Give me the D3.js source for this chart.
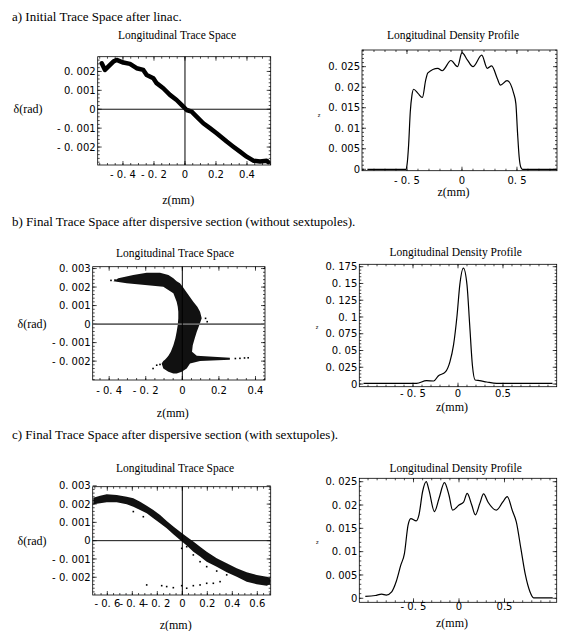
<!DOCTYPE html>
<html>
<head>
<meta charset="utf-8">
<script src="https://cdn.jsdelivr.net/npm/d3@7"></script>
<style>
body { margin: 0; background: #fff; }
.title { font-family: "Liberation Serif", "Times New Roman", serif; font-size: 13px; }
.sub { font-family: "Liberation Serif", "Times New Roman", serif; font-size: 11.5px; }
.axlab { font-family: "Liberation Serif", "Times New Roman", serif; font-size: 12px; }
.tick { font-family: "DejaVu Sans", sans-serif; font-size: 10px; }
</style>
</head>
<body>
<div id="chart"></div>
<script>
// a) trace after linac: centre of the thick band
const traceA_z = [-0.537, -0.516, -0.495, -0.462, -0.441, -0.398, -0.355, -0.312, -0.269, -0.247, -0.204, -0.183, -0.140, -0.097, -0.054, -0.022, 0.011, 0.043, 0.075, 0.118, 0.161, 0.204, 0.269, 0.312, 0.355, 0.398, 0.441, 0.484, 0.527, 0.537];
const traceA_d = [0.00243, 0.00208, 0.00225, 0.00252, 0.00261, 0.00247, 0.0024, 0.00217, 0.00208, 0.00181, 0.00164, 0.00138, 0.00111, 0.00076, 0.00049, 0.00023, -0.00004, -0.00013, -0.00039, -0.00074, -0.001, -0.00127, -0.00171, -0.00198, -0.00224, -0.00251, -0.00272, -0.00277, -0.00272, -0.0028];

const profileA_z = [-0.86, -0.51, -0.50, -0.485, -0.47, -0.455, -0.44, -0.40, -0.36, -0.33, -0.31, -0.22, -0.18, -0.10, -0.04, 0.00, 0.05, 0.10, 0.18, 0.23, 0.27, 0.32, 0.35, 0.41, 0.47, 0.49, 0.505, 0.52, 0.535, 0.55, 0.86];
const profileA_n = [0, 0, 0.001, 0.006, 0.014, 0.018, 0.0195, 0.0185, 0.0175, 0.0217, 0.0235, 0.0246, 0.024, 0.0265, 0.025, 0.0284, 0.0266, 0.025, 0.0278, 0.0246, 0.0252, 0.0222, 0.0205, 0.0216, 0.0185, 0.016, 0.009, 0.003, 0.0005, 0, 0];

// b) without sextupoles: crescent cloud, left/right edge per delta
const bandB_d = [0.00277, 0.00265, 0.00247, 0.00232, 0.0022, 0.00202, 0.00166, 0.00121, 0.00094, 0.00067, 0.00031, -0.00005, -0.00042, -0.00077, -0.00114, -0.0015, -0.00171, -0.00182, -0.00193, -0.002, -0.00213, -0.0024, -0.00258, -0.00267];
const bandB_left = [-0.195, -0.268, -0.35, -0.377, -0.304, -0.104, -0.049, -0.031, -0.025, -0.022, -0.022, -0.025, -0.031, -0.038, -0.049, -0.063, -0.076, -0.085, -0.095, -0.104, -0.113, -0.104, -0.076, -0.049];
const bandB_right = [-0.122, -0.076, -0.049, -0.031, -0.013, 0.002, 0.027, 0.06, 0.082, 0.097, 0.106, 0.093, 0.079, 0.068, 0.057, 0.053, 0.079, 0.26, 0.26, 0.097, 0.042, 0.024, -0.003, -0.031];
const strayB_z = [-0.368, -0.39, 0.29, 0.315, 0.34, 0.36, 0.127, 0.136, -0.14, -0.122, -0.16];
const strayB_d = [0.00238, 0.00236, -0.00186, -0.00185, -0.00183, -0.00182, 0.00031, 0.00013, -0.00222, -0.00218, -0.0024];

const profileB_z = [-1.05, -0.46, -0.35, -0.27, -0.22, -0.14, -0.09, -0.05, -0.01, 0.02, 0.06, 0.10, 0.13, 0.16, 0.19, 0.24, 0.32, 0.43, 1.05];
const profileB_n = [0.001, 0.001, 0.005, 0.0045, 0.012, 0.018, 0.033, 0.058, 0.103, 0.148, 0.173, 0.148, 0.088, 0.028, 0.006, 0.005, 0.003, 0.001, 0.001];

// c) with sextupoles: band top/bottom per z
const bandC_z = [-0.712, -0.658, -0.605, -0.525, -0.445, -0.392, -0.338, -0.285, -0.232, -0.178, -0.125, -0.072, -0.018, 0.035, 0.088, 0.142, 0.195, 0.275, 0.355, 0.435, 0.515, 0.595, 0.675, 0.702];
const bandC_top = [0.00235, 0.00246, 0.00254, 0.0025, 0.0024, 0.00232, 0.00213, 0.00191, 0.00168, 0.0014, 0.00108, 0.00077, 0.00049, 0.00022, -0.00005, -0.00033, -0.0006, -0.00096, -0.00124, -0.00151, -0.00173, -0.00187, -0.00197, -0.00205];
const bandC_bot = [0.00199, 0.00204, 0.0021, 0.0021, 0.00199, 0.00186, 0.00168, 0.0015, 0.00122, 0.00095, 0.00068, 0.00035, 0.00004, -0.00027, -0.0006, -0.00087, -0.00115, -0.00142, -0.00173, -0.00197, -0.00224, -0.00238, -0.00246, -0.00238];
const strayC_z = [-0.285, -0.165, -0.125, -0.072, -0.005, 0.035, 0.088, 0.142, 0.195, 0.248, 0.302, 0.035, 0.088, 0.142, 0.195, 0.275, 0.355, -0.392, -0.312, -0.005];
const strayC_d = [-0.00242, -0.00246, -0.00251, -0.00257, -0.00246, -0.0026, -0.00246, -0.00242, -0.00233, -0.00233, -0.00224, -0.00033, -0.00078, -0.00115, -0.00142, -0.00166, -0.00187, 0.00159, 0.00131, -0.00042];

const profileC_z = [-1.03, -0.92, -0.85, -0.80, -0.74, -0.69, -0.64, -0.60, -0.56, -0.53, -0.47, -0.44, -0.40, -0.36, -0.33, -0.27, -0.22, -0.16, -0.11, -0.07, 0.00, 0.05, 0.09, 0.14, 0.18, 0.23, 0.27, 0.32, 0.41, 0.48, 0.53, 0.59, 0.63, 0.68, 0.73, 0.78, 0.82, 1.03];
const profileC_n = [0.0004, 0.0006, 0.0009, 0.0007, 0.0014, 0.0036, 0.0071, 0.0096, 0.0157, 0.0171, 0.0166, 0.0179, 0.0229, 0.025, 0.0232, 0.0186, 0.0214, 0.0248, 0.0221, 0.0189, 0.02, 0.0206, 0.0225, 0.02, 0.0179, 0.0204, 0.0224, 0.0206, 0.0189, 0.0206, 0.0218, 0.0186, 0.0164, 0.0107, 0.005, 0.0014, 0.0001, 0.0001];

// tick values and labels
const traceTicksY = [-0.002, -0.001, 0, 0.001, 0.002];
const traceTickLabelsY = ['- 0. 002', '- 0. 001', '0', '0. 001', '0. 002'];
const traceTicksY3 = [-0.002, -0.001, 0, 0.001, 0.002, 0.003];
const traceTickLabelsY3 = ['- 0. 002', '- 0. 001', '0', '0. 001', '0. 002', '0. 003'];
const traceTicksX = [-0.4, -0.2, 0, 0.2, 0.4];
const traceTickLabelsX = ['- 0. 4', '- 0. 2', '0', '0.2', '0.4'];
const traceTicksXc = [-0.6, -0.4, -0.2, 0, 0.2, 0.4, 0.6];
const traceTickLabelsXc = ['- 0. 6', '- 0. 4', '- 0. 2', '0', '0.2', '0.4', '0.6'];
const profTicksX = [-0.5, 0, 0.5];
const profTickLabelsXa = ['- 0. 5', '0', '0. 5'];
const profTickLabelsX = ['- 0. 5', '0', '0.5'];
const profTicksYa = [0, 0.005, 0.01, 0.015, 0.02, 0.025];
const profTickLabelsYa = ['0', '0. 005', '0. 01', '0. 015', '0. 02', '0. 025'];
const profTicksYb = [0, 0.025, 0.05, 0.075, 0.1, 0.125, 0.15, 0.175];
const profTickLabelsYb = ['0', '0. 025', '0. 05', '0. 075', '0. 1', '0. 125', '0. 15', '0. 175'];

const svg = d3.select('#chart').append('svg')
    .attr('width', 563)
    .attr('height', 631);

const titles = [
    { text: 'a) Initial Trace Space after linac.', y: 21 },
    { text: 'b) Final Trace Space after dispersive section (without sextupoles).', y: 226 },
    { text: 'c) Final Trace Space after dispersive section (with sextupoles).', y: 439 }
];
svg.selectAll('.title').data(titles).enter().append('text')
    .attr('class', 'title')
    .attr('x', 12)
    .attr('y', d => d.y)
    .text(d => d.text);

let clipId = 0;

function steps(domain, step) {
    const out = [];
    const start = Math.ceil(domain[0] / step - 1e-9);
    const end = Math.floor(domain[1] / step + 1e-9);
    for (let i = start; i <= end; i++) out.push(i * step);
    return out;
}

function drawPanel(p) {
    const x = d3.scaleLinear().domain(p.xDomain).range([p.left, p.right]);
    const y = d3.scaleLinear().domain(p.yDomain).range([p.bottom, p.top]);
    const g = svg.append('g');

    const id = 'clip' + (clipId++);
    g.append('clipPath').attr('id', id).append('rect')
        .attr('x', p.left).attr('y', p.top)
        .attr('width', p.right - p.left).attr('height', p.bottom - p.top);

    const plot = g.append('g').attr('clip-path', `url(#${id})`);

    // frame ticks, pointing inwards on all four sides
    const tg = g.append('g').attr('stroke', '#000').attr('stroke-width', 0.7);
    steps(p.xDomain, p.xMinor).forEach(v => {
        tg.append('line').attr('x1', x(v)).attr('x2', x(v)).attr('y1', p.bottom).attr('y2', p.bottom - 2);
        tg.append('line').attr('x1', x(v)).attr('x2', x(v)).attr('y1', p.top).attr('y2', p.top + 2);
    });
    steps(p.yDomain, p.yMinor).forEach(v => {
        tg.append('line').attr('y1', y(v)).attr('y2', y(v)).attr('x1', p.left).attr('x2', p.left + 2);
        tg.append('line').attr('y1', y(v)).attr('y2', y(v)).attr('x1', p.right).attr('x2', p.right - 2);
    });
    p.xTicks.forEach(v => {
        tg.append('line').attr('x1', x(v)).attr('x2', x(v)).attr('y1', p.bottom).attr('y2', p.bottom - 4);
        tg.append('line').attr('x1', x(v)).attr('x2', x(v)).attr('y1', p.top).attr('y2', p.top + 4);
    });
    p.yTicks.forEach(v => {
        tg.append('line').attr('y1', y(v)).attr('y2', y(v)).attr('x1', p.left).attr('x2', p.left + 4);
        tg.append('line').attr('y1', y(v)).attr('y2', y(v)).attr('x1', p.right).attr('x2', p.right - 4);
    });

    g.append('rect')
        .attr('x', p.left).attr('y', p.top)
        .attr('width', p.right - p.left).attr('height', p.bottom - p.top)
        .attr('fill', 'none').attr('stroke', '#000').attr('stroke-width', 0.8);

    g.selectAll('.xl').data(p.xTicks).enter().append('text')
        .attr('class', 'tick')
        .attr('x', d => x(d))
        .attr('y', p.xLabelY)
        .attr('text-anchor', 'middle')
        .text((d, i) => p.xTickLabels[i]);

    g.selectAll('.yl').data(p.yTicks).enter().append('text')
        .attr('class', 'tick')
        .attr('x', p.left - 2)
        .attr('y', d => y(d) + 3.6)
        .attr('text-anchor', 'end')
        .text((d, i) => p.yTickLabels[i]);

    g.append('text').attr('class', 'sub')
        .attr('x', p.subX).attr('y', p.subY)
        .attr('text-anchor', 'middle')
        .text(p.sub);

    g.append('text').attr('class', 'axlab')
        .attr('x', (p.left + p.right) / 2 - 6).attr('y', p.zLabelY)
        .attr('text-anchor', 'middle')
        .text('z(mm)');

    if (p.yLabel === 'z') {
        g.append('text')
            .attr('x', p.yLabelX).attr('y', p.yLabelY)
            .attr('text-anchor', 'middle')
            .style('font-family', 'DejaVu Sans, sans-serif')
            .style('font-size', '5px')
            .text('z');
    } else {
        g.append('text').attr('class', 'axlab')
            .attr('x', p.yLabelX).attr('y', y(0) + 4)
            .attr('text-anchor', 'middle')
            .text(p.yLabel);
    }

    if (p.axes) {
        g.append('line')
            .attr('x1', p.left).attr('x2', p.right)
            .attr('y1', y(0)).attr('y2', y(0))
            .attr('stroke', p.axisColor || '#111')
            .attr('stroke-width', p.axisWidth || 1);
        g.append('line')
            .attr('x1', x(0)).attr('x2', x(0))
            .attr('y1', p.top).attr('y2', p.bottom)
            .attr('stroke', '#000').attr('stroke-width', 1);
    }

    return { plot, x, y };
}

function drawProfile(panel, zs, ns) {
    const line = d3.line()
        .x(d => panel.x(d[0]))
        .y(d => panel.y(d[1]))
        .curve(d3.curveMonotoneX);
    panel.plot.append('path')
        .datum(zs.map((z, i) => [z, ns[i]]))
        .attr('d', line)
        .attr('fill', 'none')
        .attr('stroke', '#000')
        .attr('stroke-width', 1.2);
}

function drawStray(panel, zs, ds) {
    panel.plot.selectAll('.stray').data(zs).enter().append('rect')
        .attr('x', d => panel.x(d) - 0.8)
        .attr('y', (d, i) => panel.y(ds[i]) - 0.8)
        .attr('width', 1.6)
        .attr('height', 1.6)
        .attr('fill', '#000');
}

// ---- row a ----
const pa1 = drawPanel({
    left: 97.7, right: 270.7, top: 56.7, bottom: 165,
    xDomain: [-0.563, 0.553], yDomain: [-0.00295, 0.00278],
    xTicks: traceTicksX, xTickLabels: traceTickLabelsX,
    yTicks: traceTicksY, yTickLabels: traceTickLabelsY,
    xMinor: 0.05, yMinor: 0.0002,
    xLabelY: 177.5, zLabelY: 204,
    sub: 'Longitudinal Trace Space', subX: 177, subY: 38.5,
    yLabel: 'δ(rad)', yLabelX: 28, axes: true
});
pa1.plot.append('path')
    .datum(traceA_z.map((z, i) => [z, traceA_d[i]]))
    .attr('d', d3.line().x(d => pa1.x(d[0])).y(d => pa1.y(d[1])))
    .attr('fill', 'none')
    .attr('stroke', '#000')
    .attr('stroke-width', 4.5)
    .attr('stroke-linejoin', 'round')
    .attr('stroke-linecap', 'round');

const pa2 = drawPanel({
    left: 362, right: 557, top: 50, bottom: 170.7,
    xDomain: [-0.909, 0.864], yDomain: [-0.00034, 0.02906],
    xTicks: profTicksX, xTickLabels: profTickLabelsXa,
    yTicks: profTicksYa, yTickLabels: profTickLabelsYa,
    xMinor: 0.1, yMinor: 0.001,
    xLabelY: 183.5, zLabelY: 196,
    sub: 'Longitudinal Density Profile', subX: 453, subY: 39,
    yLabel: 'z', yLabelX: 319, yLabelY: 117, axes: false
});
drawProfile(pa2, profileA_z, profileA_n);

// ---- row b ----
const pb1 = drawPanel({
    left: 92.7, right: 265, top: 266.7, bottom: 380,
    xDomain: [-0.49, 0.452], yDomain: [-0.00302, 0.0031],
    xTicks: traceTicksX, xTickLabels: traceTickLabelsX,
    yTicks: traceTicksY3, yTickLabels: traceTickLabelsY3,
    xMinor: 0.05, yMinor: 0.0002,
    xLabelY: 393.5, zLabelY: 417,
    sub: 'Longitudinal Trace Space', subX: 175, subY: 257,
    yLabel: 'δ(rad)', yLabelX: 32, axes: true,
    axisColor: '#666', axisWidth: 1.6
});
pb1.plot.append('path')
    .datum(bandB_d.map((d, i) => [d, bandB_left[i], bandB_right[i]]))
    .attr('d', d3.area()
        .y(d => pb1.y(d[0]))
        .x0(d => pb1.x(d[1]))
        .x1(d => pb1.x(d[2])))
    .attr('fill', '#111');
drawStray(pb1, strayB_z, strayB_d);

const pb2 = drawPanel({
    left: 359.3, right: 556.7, top: 264.3, bottom: 386.7,
    xDomain: [-1.097, 1.097], yDomain: [-0.004, 0.1786],
    xTicks: profTicksX, xTickLabels: profTickLabelsX,
    yTicks: profTicksYb, yTickLabels: profTickLabelsYb,
    xMinor: 0.1, yMinor: 0.005,
    xLabelY: 397, zLabelY: 410.5,
    sub: 'Longitudinal Density Profile', subX: 455.7, subY: 255.5,
    yLabel: 'z', yLabelX: 317, yLabelY: 328.5, axes: false
});
drawProfile(pb2, profileB_z, profileB_n);

// ---- row c ----
const pc1 = drawPanel({
    left: 92.7, right: 270.7, top: 486.7, bottom: 595,
    xDomain: [-0.717, 0.707], yDomain: [-0.00297, 0.00295],
    xTicks: traceTicksXc, xTickLabels: traceTickLabelsXc,
    yTicks: traceTicksY3, yTickLabels: traceTickLabelsY3,
    xMinor: 0.05, yMinor: 0.0002,
    xLabelY: 607, zLabelY: 629,
    sub: 'Longitudinal Trace Space', subX: 175, subY: 472,
    yLabel: 'δ(rad)', yLabelX: 32, axes: true
});
pc1.plot.append('path')
    .datum(bandC_z.map((z, i) => [z, bandC_top[i], bandC_bot[i]]))
    .attr('d', d3.area()
        .x(d => pc1.x(d[0]))
        .y0(d => pc1.y(d[2]))
        .y1(d => pc1.y(d[1])))
    .attr('fill', '#111');
drawStray(pc1, strayC_z, strayC_d);

const pc2 = drawPanel({
    left: 359.3, right: 556.7, top: 478.3, bottom: 602.3,
    xDomain: [-1.096, 1.074], yDomain: [-0.00086, 0.02573],
    xTicks: profTicksX, xTickLabels: profTickLabelsX,
    yTicks: profTicksYa, yTickLabels: profTickLabelsYa,
    xMinor: 0.1, yMinor: 0.001,
    xLabelY: 610, zLabelY: 627,
    sub: 'Longitudinal Density Profile', subX: 455.7, subY: 472,
    yLabel: 'z', yLabelX: 317.3, yLabelY: 543.5, axes: false
});
drawProfile(pc2, profileC_z, profileC_n);
</script>
</body>
</html>
